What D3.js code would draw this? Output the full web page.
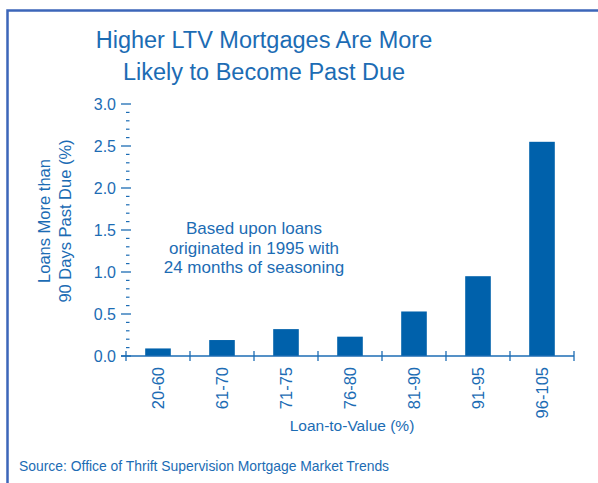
<!DOCTYPE html>
<html>
<head>
<meta charset="utf-8">
<script src="https://cdn.jsdelivr.net/npm/d3@7"></script>
<style>
  html, body { margin: 0; padding: 0; background: #fff; }
  svg { display: block; }
  text { font-family: "Liberation Sans", Arial, Helvetica, sans-serif; fill: #1c6cb4; }
</style>
</head>
<body>
<svg id="chart" width="598" height="483"></svg>
<script>
// Loan-to-value buckets and the share of loans 90+ days past due (%)
const categories = ["20-60", "61-70", "71-75", "76-80", "81-90", "91-95", "96-105"];
const pastDue = [0.09, 0.19, 0.32, 0.23, 0.53, 0.95, 2.55];
const yTicks = [0, 0.5, 1.0, 1.5, 2.0, 2.5, 3.0];
const yMinorTicks = d3.range(0, 31).map(i => i / 10);
const titleLines = ["Higher LTV Mortgages Are More", "Likely to Become Past Due"];
const yTitleLines = ["Loans More than", "90 Days Past Due (%)"];
const noteLines = ["Based upon loans", "originated in 1995 with", "24 months of seasoning"];
const xTitle = "Loan-to-Value (%)";
const sourceText = "Source: Office of Thrift Supervision Mortgage Market Trends";

const ink = "#1c6cb4";
const barColor = "#0061ab";
const svg = d3.select("#chart");

// frame around the chart
svg.append("rect")
  .attr("x", 7.5).attr("y", 10.5)
  .attr("width", 620).attr("height", 500)
  .attr("fill", "none")
  .attr("stroke", "#3c66b9")
  .attr("stroke-width", 2.5);

// title
svg.append("g").selectAll("text")
  .data(titleLines).join("text")
  .attr("x", 264).attr("y", (d, i) => 48 + i * 32)
  .attr("text-anchor", "middle")
  .attr("font-size", 23.5)
  .text(d => d);

const x = d3.scaleBand()
  .domain(categories)
  .range([126, 574])
  .paddingInner(0.6)
  .paddingOuter(0.3);
const step = x.step();
const x0 = x.range()[0];

const y = d3.scaleLinear().domain([0, 3]).range([356, 104]);

// bars
svg.append("g").selectAll("rect")
  .data(categories).join("rect")
  .attr("x", d => x(d))
  .attr("width", x.bandwidth())
  .attr("y", (d, i) => y(pastDue[i]))
  .attr("height", (d, i) => y(0) - y(pastDue[i]))
  .attr("fill", barColor);

// y axis: major and minor ticks, no spine
const yAxis = svg.append("g");
yAxis.selectAll("line.minor")
  .data(yMinorTicks.filter(v => Math.round(v * 10) % 5 !== 0)).join("line")
  .attr("class", "minor")
  .attr("x1", 126).attr("x2", 129.5)
  .attr("y1", d => y(d)).attr("y2", d => y(d))
  .attr("stroke", ink).attr("stroke-width", 1.2);
yAxis.selectAll("line.major")
  .data(yTicks).join("line")
  .attr("class", "major")
  .attr("x1", 121).attr("x2", 131)
  .attr("y1", d => y(d)).attr("y2", d => y(d))
  .attr("stroke", ink).attr("stroke-width", 1.3);
yAxis.selectAll("text")
  .data(yTicks).join("text")
  .attr("x", 116).attr("y", d => y(d) + 5.5)
  .attr("text-anchor", "end")
  .attr("font-size", 16)
  .text(d => d3.format(".1f")(d));

// x axis: baseline plus crossing ticks at category boundaries
const xAxis = svg.append("g");
xAxis.append("line")
  .attr("x1", 121).attr("x2", x.range()[1])
  .attr("y1", y(0)).attr("y2", y(0))
  .attr("stroke", ink).attr("stroke-width", 1.3);
xAxis.selectAll("line.tick")
  .data(d3.range(categories.length + 1)).join("line")
  .attr("class", "tick")
  .attr("x1", i => x0 + i * step).attr("x2", i => x0 + i * step)
  .attr("y1", y(0) - 5).attr("y2", y(0) + 5)
  .attr("stroke", ink).attr("stroke-width", 1.3);
xAxis.selectAll("text")
  .data(categories).join("text")
  .attr("transform", d => `translate(${x(d) + x.bandwidth() / 2 + 6},367) rotate(-90)`)
  .attr("text-anchor", "end")
  .attr("font-size", 16.5)
  .text(d => d);

svg.append("text")
  .attr("x", 352).attr("y", 431)
  .attr("text-anchor", "middle")
  .attr("font-size", 15.5)
  .text(xTitle);

// y axis title
svg.append("g").selectAll("text")
  .data(yTitleLines).join("text")
  .attr("transform", (d, i) => `translate(${50 + i * 21},221) rotate(-90)`)
  .attr("text-anchor", "middle")
  .attr("font-size", 16.5)
  .text(d => d);

// note
svg.append("g").selectAll("text")
  .data(noteLines).join("text")
  .attr("x", 254).attr("y", (d, i) => 234 + i * 19.5)
  .attr("text-anchor", "middle")
  .attr("font-size", 17)
  .text(d => d);

// source
svg.append("text")
  .attr("x", 19).attr("y", 471)
  .attr("font-size", 13.9)
  .text(sourceText);
</script>
</body>
</html>
